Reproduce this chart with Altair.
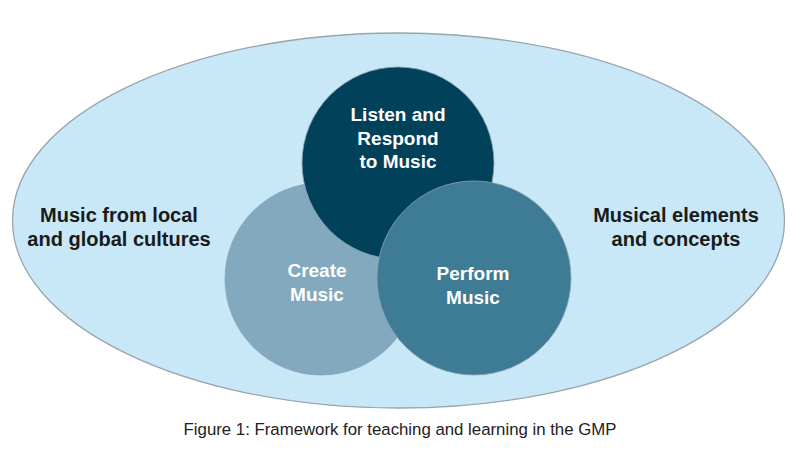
import altair as alt
import pandas as pd

# outer ellipse (page pixel coordinates)
ellipse_cx = [398.5]
ellipse_cy = [220.5]
ellipse_rx = [386]
ellipse_ry = [187.5]

# three activity circles, drawn bottom to top
circle_names = ["Create Music", "Listen and Respond to Music", "Perform Music"]
circle_cx = [321, 398, 474]
circle_cy = [279, 163, 278]
circle_r = [96, 96, 97]
circle_colors = ["#82a9be", "#02415a", "#3e7b94"]

# labels (x = centre, y = first baseline)
label_text = [
    "Listen and\nRespond\nto Music",
    "Create\nMusic",
    "Perform\nMusic",
    "Music from local\nand global cultures",
    "Musical elements\nand concepts",
]
label_x = [398, 317, 473, 119, 676]
label_y = [121, 277, 280, 222, 222]
label_colors = ["#ffffff", "#ffffff", "#ffffff", "#1a1a1a", "#1a1a1a"]
label_sizes = [19, 19, 19, 20, 20]

caption = "Figure 1: Framework for teaching and learning in the GMP"
caption_x = [400]
caption_y = [435]

xs = alt.Scale(domain=[8, 792], nice=False, zero=False)
ys = alt.Scale(domain=[8, 466], nice=False, zero=False, reverse=True)

ratio = ellipse_ry[0] / ellipse_rx[0]
ellipse_path = f"M -1 0 A 1 {ratio:.4f} 0 1 1 1 0 A 1 {ratio:.4f} 0 1 1 -1 0 Z"
ell_df = pd.DataFrame({"cx": ellipse_cx, "cy": ellipse_cy,
                       "size": [(2 * ellipse_rx[0]) ** 2]})
ellipse = alt.Chart(ell_df).mark_point(
    shape=ellipse_path, filled=True, fill="#c8e8f8", opacity=1,
    stroke="#9aa4ac", strokeWidth=1.3
).encode(
    x=alt.X("cx:Q", scale=xs, axis=None),
    y=alt.Y("cy:Q", scale=ys, axis=None),
    size=alt.Size("size:Q", scale=None, legend=None),
)

layers = [ellipse]
for name, cx, cy, r, col in zip(circle_names, circle_cx, circle_cy, circle_r, circle_colors):
    cdf = pd.DataFrame({"name": [name], "cx": [cx], "cy": [cy], "size": [4 * r * r]})
    layers.append(
        alt.Chart(cdf).mark_point(
            shape="circle", filled=True, fill=col, opacity=1,
            stroke="#8ea3b0", strokeWidth=1, strokeOpacity=0.8
        ).encode(
            x=alt.X("cx:Q", scale=xs, axis=None),
            y=alt.Y("cy:Q", scale=ys, axis=None),
            size=alt.Size("size:Q", scale=None, legend=None),
        )
    )

lab_df = pd.DataFrame({"text": label_text, "x": label_x, "y": label_y,
                       "color": label_colors, "fs": label_sizes})
labels = alt.Chart(lab_df).mark_text(
    font="Liberation Sans", fontWeight="bold", align="center",
    baseline="alphabetic", lineBreak="\n", lineHeight=23.5
).encode(
    x=alt.X("x:Q", scale=xs, axis=None),
    y=alt.Y("y:Q", scale=ys, axis=None),
    text="text:N",
    color=alt.Color("color:N", scale=None),
    size=alt.Size("fs:Q", scale=None, legend=None),
)

cap_df = pd.DataFrame({"text": [caption], "x": caption_x, "y": caption_y})
cap = alt.Chart(cap_df).mark_text(
    font="Liberation Sans", fontSize=16.8, color="#222222",
    align="center", baseline="alphabetic"
).encode(
    x=alt.X("x:Q", scale=xs, axis=None),
    y=alt.Y("y:Q", scale=ys, axis=None),
    text="text:N",
)

chart = alt.layer(*layers, labels, cap).properties(
    width=784, height=458, padding=0,
    autosize=alt.AutoSizeParams(type="none"),
    background="#ffffff",
).configure_view(stroke=None)

chart.save("out.html", embed_options={"renderer": "svg", "actions": False})
